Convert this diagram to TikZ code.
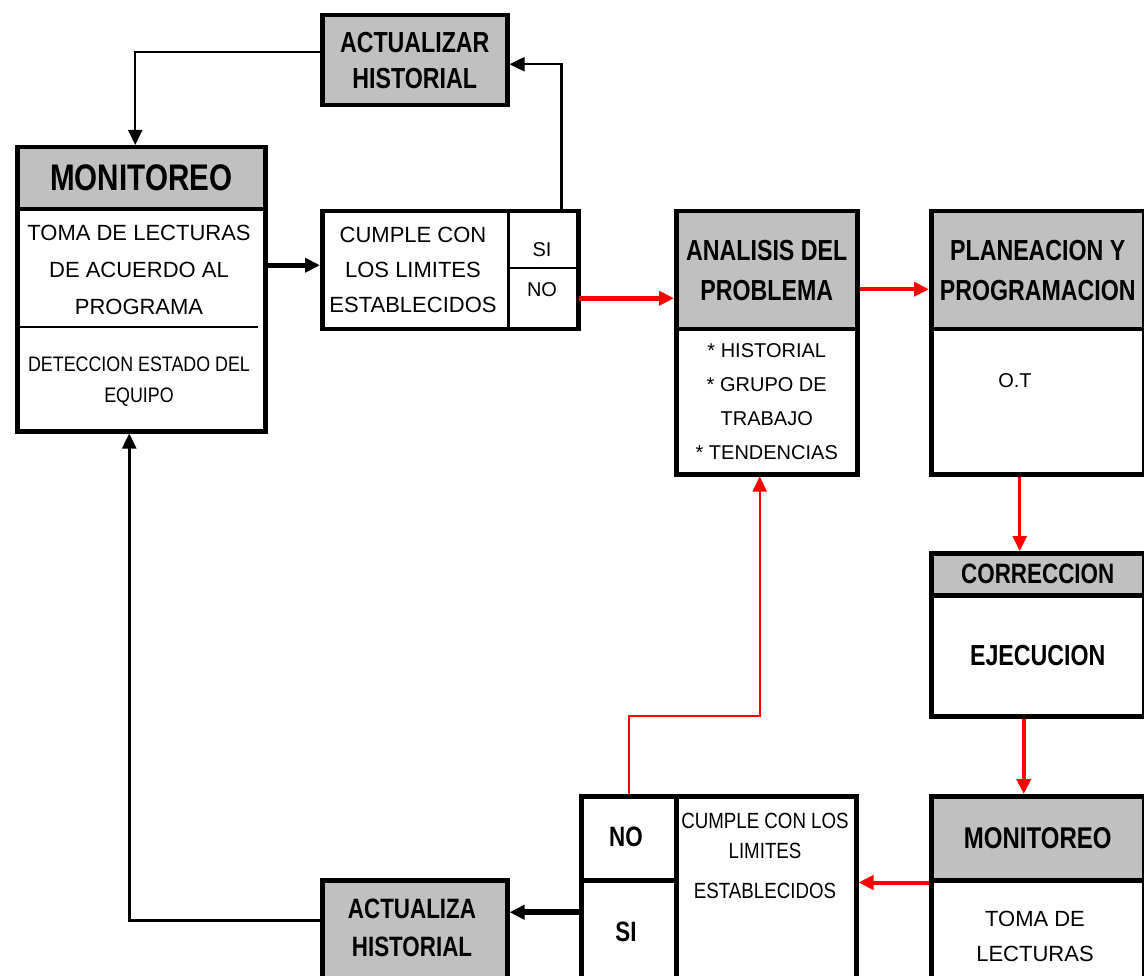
\documentclass[tikz,border=0pt]{standalone}
\usepackage{fontspec}
\setmainfont{Liberation Sans}
\newfontfamily\hbfam{Liberation Sans}[FakeStretch=0.8]
\newfontfamily\nrfam{Liberation Sans}[FakeStretch=0.85]
\usetikzlibrary{arrows.meta}
\definecolor{hgray}{RGB}{192,192,192}
\newcommand\hfs[2]{\hbfam\bfseries\fontsize{#1}{#2}\selectfont}
\newcommand\rfs[2]{\fontsize{#1}{#2}\selectfont}
\newcommand\nfs[2]{\nrfam\fontsize{#1}{#2}\selectfont}
\begin{document}
\begin{tikzpicture}[x=1pt,y=-1pt,
  box/.style={draw, line width=4.5pt, inner sep=0pt, anchor=north west, align=center},
  hdr/.style={box, fill=hgray},
  cellbox/.style={draw, line width=#1, inner sep=0pt, anchor=north west, align=center},
  txt/.style={inner sep=0pt, align=center},
  tip/.style={-{Triangle[length=15pt,width=14pt]}},
  bthin/.style={draw=black, line width=#1, tip},
  rline/.style={draw=red, line width=#1, tip}
]
\clip (0,0) rectangle (1144,976);

% ---------- top left ----------
\node[hdr, minimum width=185pt, minimum height=90pt, font=\hfs{29}{36}] (acttop) at (320,13)
  {ACTUALIZAR\\HISTORIAL};
\node[hdr, minimum width=248pt, minimum height=62pt, font=\hfs{37}{40}] (monh) at (15,145)
  {MONITOREO};
\node[box, minimum width=248pt, minimum height=222pt] (monb) at (15,207) {};
\node[txt, font=\rfs{22}{37}] (montxt1) at (139,270) {TOMA DE LECTURAS\\DE ACUERDO AL\\PROGRAMA};
\node[txt, font=\nfs{21}{31}] (montxt2) at (139,382) {DETECCION ESTADO DEL\\EQUIPO};
\draw[line width=2pt] (17,327) -- (258,327);

% ---------- top decision ----------
\node[box, minimum width=256pt, minimum height=118pt] (cumA) at (320,209) {};
\node[cellbox=2.5pt, minimum width=69pt, minimum height=58pt] (siA) at (507,209) {};
\node[cellbox=2.5pt, minimum width=69pt, minimum height=60pt] (noA) at (507,267) {};
\node[txt, font=\rfs{20}{24}] (siAtxt) at (542,250) {SI};
\node[txt, font=\rfs{20}{24}] (noAtxt) at (542,290) {NO};
\node[txt, font=\rfs{22}{35}] (cumAtxt) at (413,270) {CUMPLE CON\\LOS LIMITES\\ESTABLECIDOS};

% ---------- analisis ----------
\node[hdr, minimum width=181pt, minimum height=118pt, font=\hfs{29}{40}] (anh) at (674,209)
  {ANALISIS DEL\\PROBLEMA};
\node[box, minimum width=181pt, minimum height=145pt, font=\rfs{20}{34}] (anb) at (674,327)
  {* HISTORIAL\\* GRUPO DE\\TRABAJO\\* TENDENCIAS};

% ---------- planeacion ----------
\node[hdr, minimum width=213pt, minimum height=118pt, font=\hfs{29}{40}] (planh) at (929,209)
  {PLANEACION Y\\PROGRAMACION};
\node[box, minimum width=213pt, minimum height=145pt] (planb) at (929,327) {};
\node[txt, font=\rfs{20}{24}] (ottxt) at (1015,381) {O.T};

% ---------- correccion ----------
\node[hdr, minimum width=213pt, minimum height=42pt, font=\hfs{28}{30}] (corrh) at (929,551)
  {CORRECCION};
\node[box, minimum width=213pt, minimum height=121pt, font=\hfs{29}{32}] (corrb) at (929,593)
  {EJECUCION};

% ---------- monitoreo right ----------
\node[hdr, minimum width=213pt, minimum height=84pt, font=\hfs{30}{34}] (monRh) at (929,794)
  {MONITOREO};
\node[box, minimum width=213pt, minimum height=104pt] (monRb) at (929,878) {};
\node[txt, font=\rfs{22}{35}] (monRtxt) at (1035,936) {TOMA DE\\LECTURAS};

% ---------- bottom decision ----------
\node[box, minimum width=275pt, minimum height=188pt] (cumB) at (579,794) {};
\node[box, minimum width=95pt, minimum height=84pt] (noB) at (579,794) {};
\node[box, minimum width=95pt, minimum height=104pt] (siB) at (579,878) {};
\node[txt, font=\hfs{28}{30}] (noBtxt) at (626,837) {NO};
\node[txt, font=\hfs{28}{30}] (siBtxt) at (626,932) {SI};
\node[txt, anchor=north, font=\nfs{22}{30}] (cumBtxt) at (765,813)
  {CUMPLE CON LOS\\LIMITES\\[10pt]ESTABLECIDOS};

% ---------- actualiza bottom ----------
\node[hdr, minimum width=185pt, minimum height=104pt] (actB) at (320,878) {};
\node[txt, font=\hfs{28}{38}] (actBtxt) at (412,928) {ACTUALIZA\\HISTORIAL};

% ---------- connectors ----------
\draw[bthin=2pt] ([yshift=8pt]acttop.west) -| ([xshift=-6pt]monh.north);
\draw[bthin=2.5pt] ([xshift=-19pt]cumA.north east) |- ([yshift=-4pt]acttop.east);
\draw[bthin=5pt] ([yshift=5pt]monb.east |- cumA.west) -- ([yshift=5pt]cumA.west);
\draw[rline=5pt] (noA.east) -- (noA.east -| anh.west);
\draw[rline=4pt] ([yshift=-19pt]anh.east) -- ([yshift=-19pt]planh.west);
\draw[rline=3pt] ([xshift=-18pt]planb.south) -- ([xshift=-18pt]corrh.north);
\draw[rline=4pt] ([xshift=-14pt]corrb.south) -- ([xshift=-14pt]monRh.north);
\draw[rline=4pt] (monRh.south west) -- (monRh.south west -| cumB.east);
\draw[rline=2pt] (noB.north) -- ++(0,-78) -| ([xshift=-7pt]anb.south);
\draw[bthin=6pt] ([yshift=20pt]siB.west) -- ([yshift=20pt]siB.west -| actB.east);
\draw[bthin=2.5pt] ([yshift=12pt]actB.west) -| ([xshift=-12pt]monb.south);
\end{tikzpicture}
\end{document}
